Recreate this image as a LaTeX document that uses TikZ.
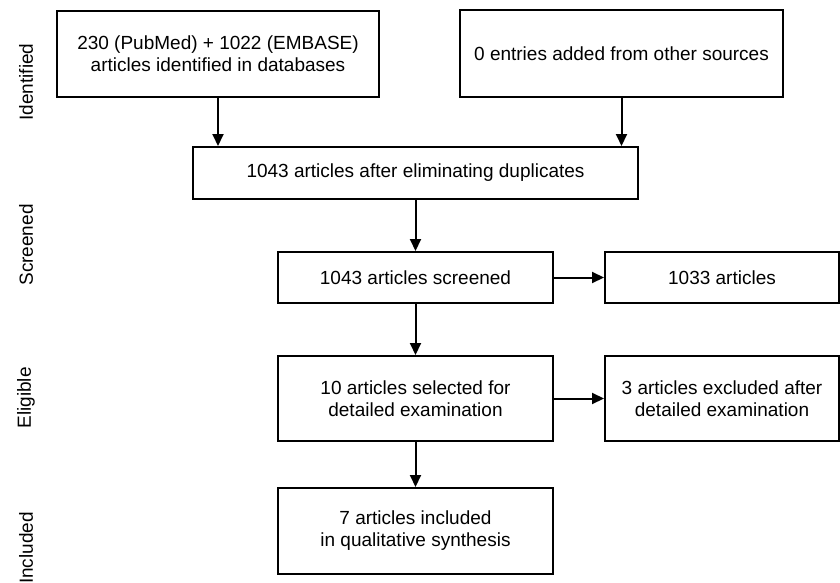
\documentclass[tikz,border=0pt]{standalone}
\usepackage{fontspec}
\setmainfont{Liberation Sans}
\usetikzlibrary{arrows.meta, positioning}
\begin{document}
\begin{tikzpicture}[x=1pt, y=1pt,
  box/.style={draw, line width=2pt, align=center, inner sep=0pt, font=\fontsize{19}{22}\selectfont},
  flow/.style={-{Triangle[length=12pt, width=11pt]}, line width=2pt},
  phase/.style={rotate=90, font=\fontsize{19}{22}\selectfont}
]
  \useasboundingbox (0,0) rectangle (840,-583);
  \node[box, minimum width=322pt, minimum height=86pt] (db) at (218,-54) {230 (PubMed) + 1022 (EMBASE)\\articles identified in databases};
  \node[box, minimum width=323pt, minimum height=87pt] (other) at (621.5,-53.5) {0 entries added from other sources};
  \node[box, minimum width=445pt, minimum height=52pt] (dup) at (415.5,-173) {1043 articles after eliminating duplicates};
  \node[box, minimum width=275pt, minimum height=51pt, below=51pt of dup] (scr) {1043 articles screened};
  \node[box, minimum width=234pt, minimum height=51pt, right=50pt of scr] (excl) {1033 articles};
  \node[box, minimum width=275pt, minimum height=85pt, below=51pt of scr] (sel) {10 articles selected for\\detailed examination};
  \node[box, minimum width=234pt, minimum height=85pt, right=50pt of sel] (excl2) {3 articles excluded after\\detailed examination};
  \node[box, minimum width=275pt, minimum height=86pt, below=45pt of sel] (inc) {7 articles included\\in qualitative synthesis};
  \draw[flow] (db.south) -- (db.south |- dup.north);
  \draw[flow] (other.south) -- (other.south |- dup.north);
  \draw[flow] (dup) -- (scr);
  \draw[flow] (scr) -- (excl);
  \draw[flow] (scr) -- (sel);
  \draw[flow] (sel) -- (excl2);
  \draw[flow] (sel) -- (inc);
  % phases
  \node[phase] (pid) at (26,-82) {Identified};
  \node[phase] (pscr) at (26,-245) {Screened};
  \node[phase] (pel) at (26,-398) {Eligible};
  \node[phase] (pinc) at (26,-548) {Included};
\end{tikzpicture}
\end{document}
